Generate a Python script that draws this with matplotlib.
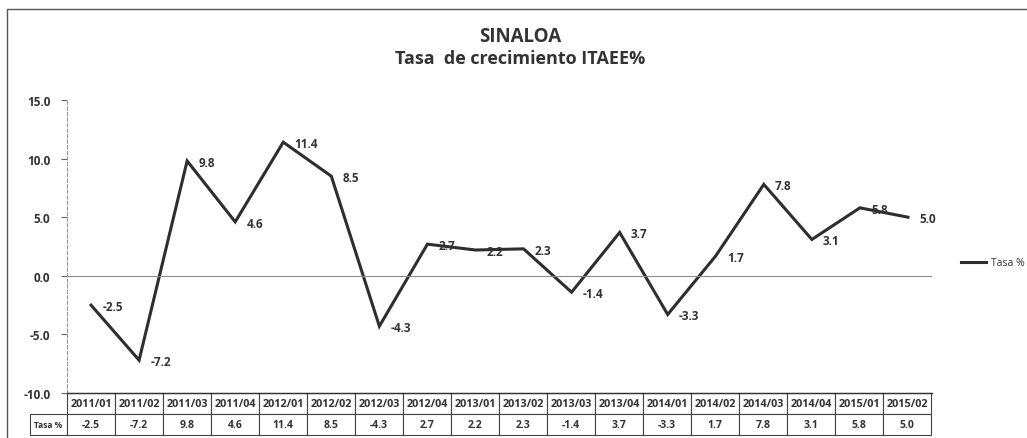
import matplotlib
matplotlib.use("Agg")
import matplotlib.pyplot as plt
from matplotlib.patches import Rectangle

plt.rcParams['font.family'] = ['Open Sans', 'DejaVu Sans']

periodos = ['2011/01', '2011/02', '2011/03', '2011/04', '2012/01', '2012/02',
            '2012/03', '2012/04', '2013/01', '2013/02', '2013/03', '2013/04',
            '2014/01', '2014/02', '2014/03', '2014/04', '2015/01', '2015/02']
tasa = [-2.5, -7.2, 9.8, 4.6, 11.4, 8.5, -4.3, 2.7, 2.2, 2.3, -1.4, 3.7,
        -3.3, 1.7, 7.8, 3.1, 5.8, 5.0]
yticks = [-10, -5, 0, 5, 10, 15]
serie = 'Tasa %'

txt = '#333333'
W, H = 1027, 439
fig = plt.figure(figsize=(W / 100, H / 100), dpi=100)
ax = fig.add_axes([67 / W, 1 - 394 / H, (932 - 67) / W, (394 - 101) / H])

x = [i + 0.5 for i in range(len(tasa))]
ax.plot(x, tasa, color='#2e2e2e', lw=2.2, label=serie, solid_joinstyle='miter')
for xi, v in zip(x, tasa):
    ax.annotate(f'{v:.1f}', (xi, v), xytext=(8, -1), textcoords='offset points',
                ha='left', va='center', fontsize=8.5, fontweight='bold', color=txt)

ax.axhline(0, color='#8a8a8a', lw=0.8)
ax.set_xlim(0, len(tasa))
ax.set_ylim(-10, 15)
ax.set_yticks(yticks)
ax.set_yticklabels([f'{t:.1f}' for t in yticks])
ax.set_xticks([])
ax.tick_params(axis='y', length=4, width=0.8, color='#666666', pad=8,
               labelsize=8.5, labelcolor=txt)
for lab in ax.get_yticklabels():
    lab.set_fontweight('bold')
for s in ['top', 'right']:
    ax.spines[s].set_visible(False)
ax.spines['left'].set_color('#999999')
ax.spines['left'].set_linewidth(0.8)
ax.spines['left'].set_linestyle((0, (3, 2)))
ax.spines['bottom'].set_color('#333333')
ax.spines['bottom'].set_linewidth(1.0)

# tabla de datos (columna de etiqueta + 18 periodos)
lbl_px, col_px = 37, 48
anchos = [lbl_px] + [col_px] * len(periodos)
total = sum(anchos)
celdas = [[''] + periodos, [serie] + [f'{v:.1f}' for v in tasa]]
tab = ax.table(cellText=celdas, cellLoc='center',
               colWidths=[a / total for a in anchos],
               bbox=[-lbl_px / 865, -42 / 293, total / 865, 42 / 293])
tab.auto_set_font_size(False)
for (r, c), cell in tab.get_celld().items():
    cell.set_edgecolor('#444444')
    cell.set_linewidth(0.8)
    t = cell.get_text()
    t.set_fontsize(7.8 if r == 0 else 7.5)
    t.set_fontweight('bold')
    t.set_color(txt)
    if c == 0:
        t.set_fontsize(6)
        if r == 0:
            cell.set_visible(False)

fig.text(520 / W, 1 - 37 / H, 'SINALOA', ha='center', va='center',
         fontsize=13.5, fontweight='bold', color=txt)
fig.text(520 / W, 1 - 59 / H, 'Tasa  de crecimiento ITAEE%', ha='center', va='center',
         fontsize=13, fontweight='bold', color=txt)

ax.legend(loc='center left', bbox_to_anchor=(952 / W, 1 - 264 / H),
          bbox_transform=fig.transFigure, frameon=False, fontsize=7.5,
          handlelength=2.4, handletextpad=0.4, labelcolor=txt)

fig.add_artist(Rectangle((7 / W, -0.2), 1.2, 1.2 - 10 / H, transform=fig.transFigure,
                         fill=False, edgecolor='#555555', lw=1.0))

fig.savefig('out.png', dpi=100)
